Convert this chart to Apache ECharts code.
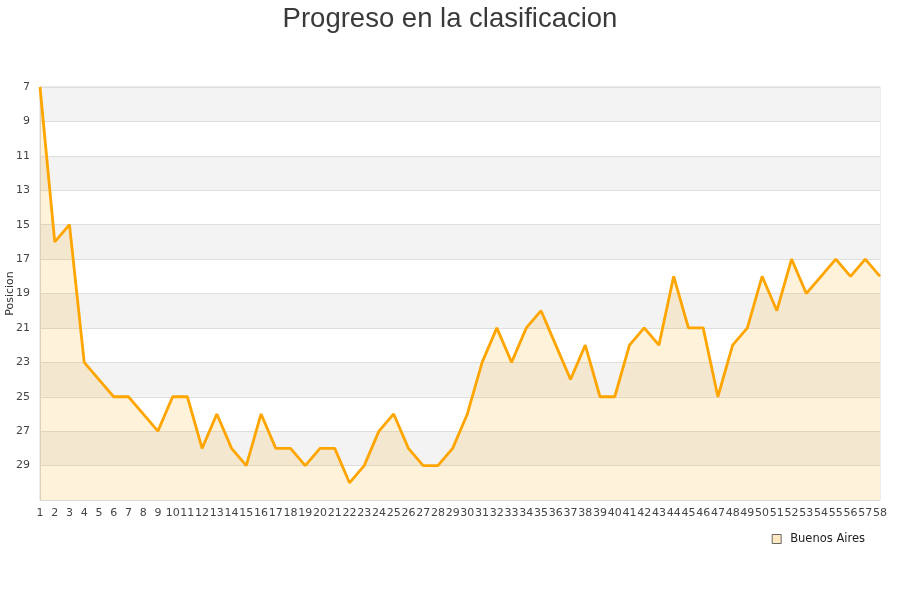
<!doctype html>
<html lang="es">
  <head>
    <meta charset="UTF-8" />
    <title>Progreso en la clasificacion</title>
    <style>
      html, body { margin: 0; padding: 0; background: #fff; }
      #chart1 { width: 900px; height: 600px; }
    </style>
  </head>
  <body>
    <div id="chart1"></div>
    <script src="https://cdn.jsdelivr.net/npm/echarts@6/dist/echarts.min.js"></script>
    <script>
      // Jornadas (eje x)
      const jornadas = [
        "1", "2", "3", "4", "5", "6", "7", "8", "9", "10",
        "11", "12", "13", "14", "15", "16", "17", "18", "19", "20",
        "21", "22", "23", "24", "25", "26", "27", "28", "29", "30",
        "31", "32", "33", "34", "35", "36", "37", "38", "39", "40",
        "41", "42", "43", "44", "45", "46", "47", "48", "49", "50",
        "51", "52", "53", "54", "55", "56", "57", "58",
      ];

      // Posicion de Buenos Aires en cada jornada
      const posiciones = [
        7, 16, 15, 23, 24, 25, 25, 26, 27, 25,
        25, 28, 26, 28, 29, 26, 28, 28, 29, 28,
        28, 30, 29, 27, 26, 28, 29, 29, 28, 26,
        23, 21, 23, 21, 20, 22, 24, 22, 25, 25,
        22, 21, 22, 18, 21, 21, 25, 22, 21, 18,
        20, 17, 19, 18, 17, 18, 17, 18,
      ];

      const equipo = "Buenos Aires";

      const myChart = echarts.init(document.querySelector("#chart1"));

      const option = {
        animation: false,
        title: {
          text: "Progreso en la clasificacion",
          left: "center",
          top: 0,
          textStyle: {
            fontFamily: "Liberation Sans",
            fontSize: 27.5,
            fontWeight: "normal",
            color: "#3a3a3a",
          },
        },
        legend: {
          data: [equipo],
          right: 30,
          top: 528,
          icon: "rect",
          itemWidth: 9,
          itemHeight: 9,
          itemStyle: { color: "#FFE8C0", borderColor: "#666", borderWidth: 1 },
          textStyle: {
            fontFamily: "DejaVu Sans",
            fontSize: 11.5,
            color: "#222",
            padding: [0, 0, 0, 4],
          },
        },
        grid: {
          left: 40,
          right: 20,
          top: 87,
          bottom: 100,
          containLabel: false,
          outerBoundsMode: "none",
          show: true,
          borderColor: "#d9d9d9",
          borderWidth: 1,
        },
        xAxis: {
          type: "category",
          boundaryGap: false,
          data: jornadas,
          axisLine: { lineStyle: { color: "#d9d9d9" } },
          axisTick: { show: false },
          axisLabel: {
            interval: 0,
            margin: 8,
            fontFamily: "DejaVu Sans",
            fontSize: 11,
            color: "#444",
          },
        },
        yAxis: {
          type: "value",
          inverse: true,
          min: 7,
          max: 31,
          interval: 2,
          name: "Posicion",
          nameLocation: "middle",
          nameGap: 24,
          nameMoveOverlap: false,
          nameTextStyle: { fontFamily: "DejaVu Sans", fontSize: 11, color: "#333" },
          axisLine: { show: true, lineStyle: { color: "#d9d9d9" } },
          axisTick: { show: false },
          axisLabel: {
            showMaxLabel: false,
            margin: 10,
            fontFamily: "DejaVu Sans",
            fontSize: 11,
            color: "#444",
          },
          splitLine: { lineStyle: { color: "#dedede" } },
          splitArea: { show: true, areaStyle: { color: ["#f3f3f3", "#ffffff"] } },
        },
        series: [
          {
            name: equipo,
            type: "line",
            data: posiciones,
            symbol: "none",
            lineStyle: { color: "#FFA500", width: 2.8 },
            itemStyle: { color: "#FFA500" },
            areaStyle: { color: "rgba(255,165,0,0.2)", origin: "end" },
          },
        ],
      };

      myChart.setOption(option);
    </script>
  </body>
</html>
